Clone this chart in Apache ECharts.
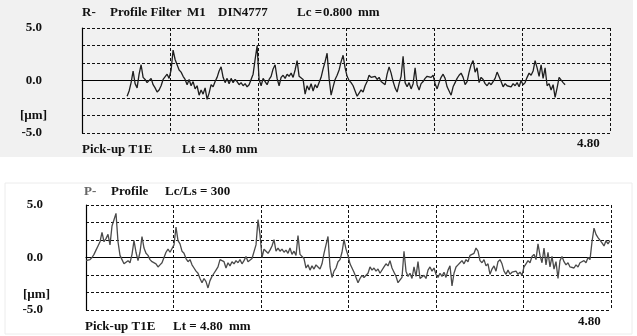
<!DOCTYPE html>
<html>
<head>
<meta charset="utf-8">
<script src="https://cdn.jsdelivr.net/npm/echarts@6/dist/echarts.min.js"></script>
<style>
  html, body { margin: 0; padding: 0; background: #fff; }
  #chart { width: 637px; height: 336px; }
</style>
</head>
<body>
<div id="chart"></div>
<script>
// axes (both panels): length in mm, height in um
const xTicks = [0, 0.8, 1.6, 2.4, 3.2, 4.0, 4.8];
const yLimits = [-5, 5];

// R-profile (filtered), sampled every 0.8/44 mm starting at 0.41 mm
const rStart = 0.41;
const rStep = 0.8 / 44;
const rY = [
  -1.5,-1.0,-0.2,0.9,-0.3,-0.7,0.6,1.5,0.3,0.1,-0.2,-0.1,0.2,-0.4,-0.7,-1.1,-0.9,-0.5,0.1,0.0,
  0.6,0.2,1.0,2.9,2.0,1.5,1.0,0.8,0.4,0.1,-0.4,0.1,-0.5,-0.1,-0.8,-0.5,-1.4,-0.9,-1.3,-0.7,
  -1.8,-1.2,-0.4,-0.6,-0.1,0.3,0.9,1.3,0.3,-0.2,0.2,-0.3,0.2,-0.2,0.1,-0.1,
  -0.4,-0.2,-0.5,-0.3,-0.6,-0.4,-0.5,0.6,2.0,3.3,0.1,-0.5,0.2,-0.1,-0.4,0.1,0.4,1.1,1.5,0.2,
  -0.5,0.3,0.5,0.2,0.6,0.4,0.7,0.3,1.0,1.9,0.4,0.5,0.1,-1.3,-0.5,-0.9,-0.3,-1.0,-0.4,-0.7,
  -0.2,0.3,1.1,1.8,2.6,0.2,-1.4,-0.6,0.1,0.5,1.0,1.8,2.4,1.2,0.4,0.0,
  -0.2,-0.5,-1.0,-1.5,-1.2,-0.9,-1.1,-0.5,-0.1,0.5,0.3,0.2,0.4,0.1,0.3,-0.1,-0.2,-0.4,0.6,1.3,
  0.7,-0.1,-0.7,-1.1,-0.3,0.4,2.3,-0.2,-0.6,-0.2,-0.8,-0.3,1.2,-0.4,-0.9,-0.3,-0.1,0.2,0.4,0.5,
  0.3,0.5,-0.3,-0.8,-0.2,0.3,0.6,0.2,-0.6,-1.0,-1.4,-0.6,-0.2,0.2,0.5,0.7,0.3,
  -0.4,-0.1,0.8,1.5,1.9,0.8,1.2,-0.2,0.3,0.1,-0.3,-0.5,-0.2,-0.4,-0.1,0.2,0.8,0.7,-0.1,-0.6,
  -0.3,-0.5,-0.4,-0.6,-0.3,-0.5,-0.2,-0.6,0.0,-0.4,-0.2,0.3,0.7,0.5,0.9,1.9,1.2,0.4,1.5,0.2,
  1.2,-0.5,-0.3,-0.9,-0.4,-1.6,-0.7,0.3,0.4,-0.2,-0.4
];

// P-profile (primary), sampled every 0.8/43.75 mm from 0
const pStart = 0;
const pStep = 0.8 / 43.75;
const pY = [
  -0.3,-0.4,-0.2,0.0,0.3,0.7,1.1,1.5,2.4,1.5,1.8,2.2,1.2,3.0,3.6,4.2,1.5,0.2,-0.2,-0.6,
  -0.5,-0.3,-0.5,0.3,1.6,0.5,-0.3,0.5,2.0,0.9,0.4,0.2,-0.2,-0.4,-0.5,-0.6,-0.9,-0.7,-0.5,0.0,
  0.5,0.8,0.5,0.4,1.2,2.9,1.6,1.3,0.6,0.4,-0.1,-0.4,-0.2,-0.7,-1.0,-1.3,-1.5,-2.0,-2.4,-2.0,
  -2.3,-2.9,-2.2,-1.8,-1.5,
  -1.2,-0.9,-0.2,-0.1,-0.4,-1.0,-0.5,-0.8,-0.4,-0.6,-0.3,-0.5,-0.2,-0.6,-0.3,0.1,-0.4,-0.3,-0.1,0.0,
  1.2,3.6,2.2,0.0,0.8,0.6,0.4,0.7,1.1,1.7,0.6,0.9,0.6,0.8,0.5,0.7,0.4,0.9,0.3,0.6,
  0.2,2.1,0.3,0.2,-0.1,-1.0,-0.7,-1.2,-0.8,-1.1,-0.7,-0.9,-1.1,-0.6,0.4,1.2,2.0,-0.9,-1.9,-1.3,
  -1.0,-0.4,-0.2,0.5,1.7,0.8,
  0.2,-0.6,-1.0,-1.4,-1.9,-2.4,-2.0,-1.7,-1.9,-1.8,-1.5,-0.9,-1.2,-1.0,-1.3,-1.1,-1.5,-1.4,-0.9,-0.6,
  -0.8,-0.3,-1.0,-1.4,-1.8,-2.4,-2.5,-1.9,0.6,-1.3,-1.8,-1.5,-2.0,-0.9,-1.8,-0.4,-2.0,-2.1,-1.7,-2.0,
  -1.2,-0.9,-1.3,-1.0,-1.6,-1.9,-1.5,-1.8,-1.4,-1.9,-1.2,-0.8,-2.7,-1.5,-0.9,-0.7,-0.5,-0.3,-0.6,-0.2,
  -0.4,0.2,0.1,0.4,0.9,0.6,
  -0.3,-0.5,-0.2,-0.8,-0.6,-1.6,-1.1,-0.8,-1.3,-0.4,-0.2,-0.6,-1.3,-1.6,-1.2,-1.6,-1.4,-1.5,-1.3,-1.6,
  -1.4,-1.7,-0.9,-0.6,-0.3,-0.5,0.1,0.3,-0.2,1.3,0.2,-0.5,0.9,-0.7,0.5,-0.9,0.1,-1.1,-0.4,-2.0,
  -0.3,0.1,-0.4,-0.7,-0.5,-0.9,-0.8,-1.0,-0.7,-0.9,-0.5,-0.6,-0.3,-0.5,0.0,-0.2,1.5,2.8,2.2,1.9,
  2.0,1.4,1.1,1.6,1.3,1.6
];

const FONT = 'bold 13px "Liberation Serif", "DejaVu Serif", serif';
const dash = { color: '#111', type: [3, 2], width: 1 };

function toPairs(start, step, ys) {
  return ys.map((y, i) => [start + i * step, y]);
}

function label(text, x, y, fill, align) {
  return {
    type: 'text', x: x, y: y, z: 10,
    style: {
      text: text, font: FONT, fill: fill || '#111',
      textAlign: align || 'left', align: align || 'left',
      textVerticalAlign: 'middle', verticalAlign: 'middle'
    }
  };
}

function yLabelFmt(v) {
  if (Math.abs(v) < 1e-6) return '0.0';
  if (Math.abs(Math.abs(v) - 5) < 1e-6) return v.toFixed(1);
  return '';
}

function makeX(gridIndex) {
  return {
    type: 'value', gridIndex: gridIndex,
    min: xTicks[0], max: xTicks[xTicks.length - 1], interval: 0.8,
    axisLine: { onZero: true, lineStyle: { color: '#000', width: 1.2 } },
    axisTick: { show: false },
    axisLabel: { show: false },
    splitLine: { show: true, lineStyle: dash }
  };
}

function makeY(gridIndex, margin) {
  return {
    type: 'value', gridIndex: gridIndex,
    min: yLimits[0], max: yLimits[1], interval: 10 / 6,
    axisLine: { show: true, lineStyle: { color: '#000', width: 1.2 } },
    axisTick: { show: false },
    axisLabel: {
      formatter: yLabelFmt, margin: margin,
      fontFamily: '"Liberation Serif", serif', fontWeight: 'bold', fontSize: 13, color: '#111'
    },
    splitLine: { show: true, lineStyle: dash }
  };
}

const myChart = echarts.init(document.getElementById('chart'));

const option = {
  animation: false,
  backgroundColor: '#fff',
  grid: [
    { left: 82, top: 28, width: 528, height: 105 },
    { left: 86, top: 205, width: 525, height: 105 }
  ],
  xAxis: [makeX(0), makeX(1)],
  yAxis: [makeY(0, 40), makeY(1, 43)],
  graphic: [
    { type: 'rect', z: -10, shape: { x: 0, y: 0, width: 633, height: 157 }, style: { fill: '#f1f1f1' } },
    { type: 'rect', z: -10, shape: { x: 5, y: 183, width: 627, height: 151 }, style: { fill: 'none', stroke: '#ececec' } },
    // top panel texts
    label('R-', 82, 13),
    label('Profile Filter', 110, 13),
    label('M1', 187, 13),
    label('DIN4777', 218, 13),
    label('Lc =', 297, 13),
    label('0.800', 323, 13),
    label('mm', 358, 13),
    label('[µm]', 20, 116),
    label('Pick-up T1E', 82, 150),
    label('Lt = 4.80', 182, 150),
    label('mm', 236, 150),
    label('4.80', 577, 144),
    // bottom panel texts
    label('P-', 84, 192, '#666'),
    label('Profile', 111, 192),
    label('Lc/Ls = 300', 165, 192),
    label('[µm]', 23, 295),
    label('Pick-up T1E', 85, 327),
    label('Lt = 4.80', 173, 327),
    label('mm', 229, 327),
    label('4.80', 578, 322)
  ],
  series: [
    {
      name: 'R-Profile', type: 'line', xAxisIndex: 0, yAxisIndex: 0,
      data: toPairs(rStart, rStep, rY),
      showSymbol: false, smooth: false,
      lineStyle: { color: '#1e1e1e', width: 1.3 }
    },
    {
      name: 'P-Profile', type: 'line', xAxisIndex: 1, yAxisIndex: 1,
      data: toPairs(pStart, pStep, pY),
      showSymbol: false, smooth: false,
      lineStyle: { color: '#4a4a4a', width: 1.3 }
    }
  ]
};

myChart.setOption(option);
window.addEventListener('resize', () => {
  myChart.resize();
});
</script>
</body>
</html>
